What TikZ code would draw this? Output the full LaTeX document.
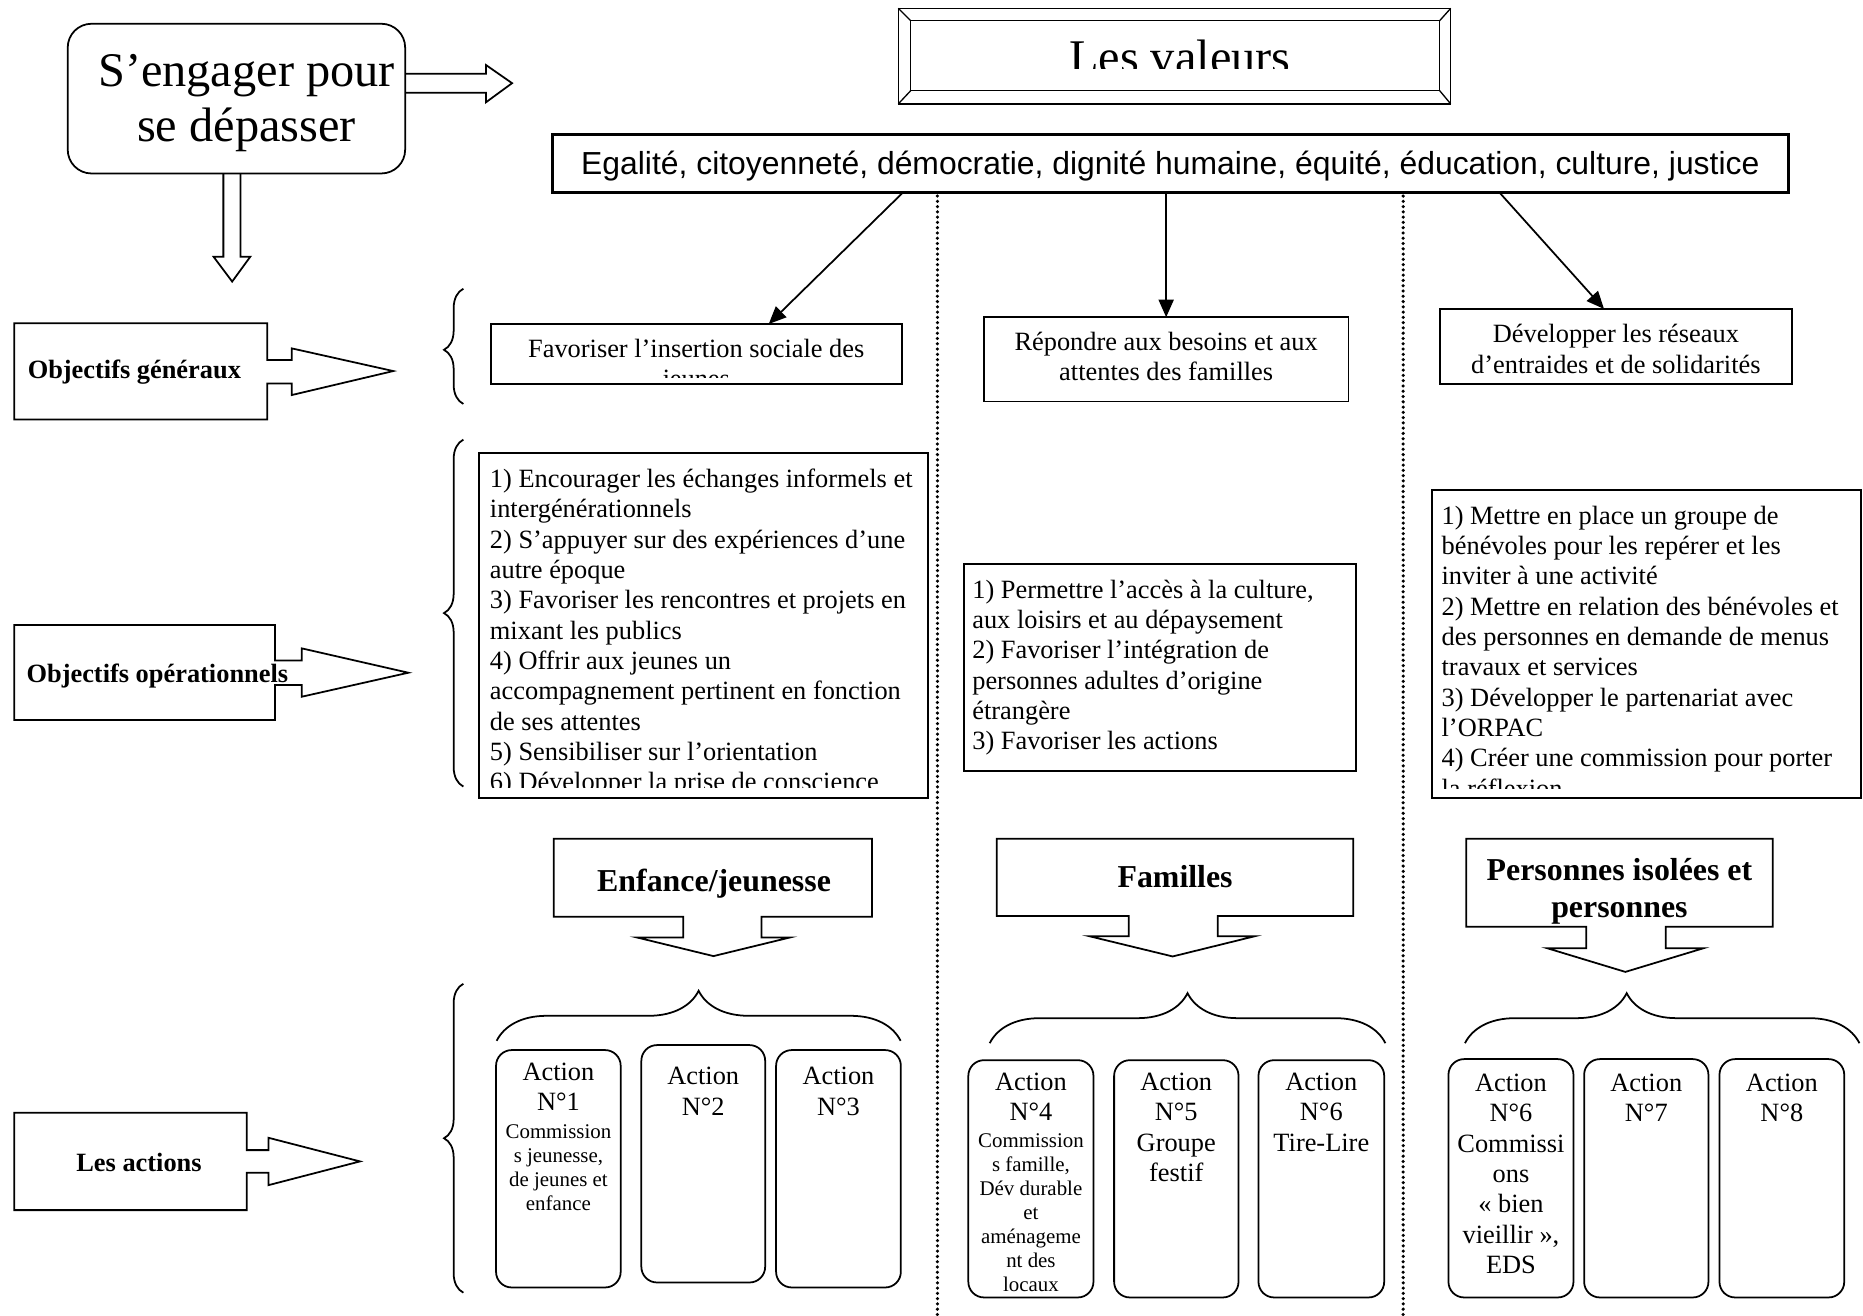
\documentclass[tikz,border=0pt]{standalone}
\usepackage{fontspec}
\setmainfont{Liberation Serif}
\newfontfamily\arialfamily{Liberation Sans}
\usepackage{tikz}
\usetikzlibrary{arrows.meta, calc, fit, decorations.pathreplacing}

\tikzset{
	boite/.style={draw, line width=0.8pt, inner sep=0pt, outer sep=0pt},
	actbox/.style={boite, rounded corners=0.25cm},
	trait/.style={line width=0.8pt, line join=miter},
	pil/.style={-{Triangle[length=2.8mm, width=2.4mm]}, line width=0.8pt},
	pointille/.style={line width=1.6pt, line cap=round, dash pattern=on 0pt off 2.4pt},
	accol/.style={decorate, decoration={brace, amplitude=#1}, line width=0.8pt},
	corps/.style={font=\fontsize{12}{13.8}\selectfont, inner sep=0pt},
	petit/.style={font=\fontsize{9.5}{10.9}\selectfont, inner sep=0pt},
	titre/.style={font=\fontsize{14.5}{16.7}\selectfont\bfseries, inner sep=0pt},
	etiq/.style={font=\fontsize{12}{13.8}\selectfont\bfseries, inner sep=0pt},
}

\begin{document}
\begin{tikzpicture}[x=0.019cm, y=-0.019cm]
	\useasboundingbox (0,0) rectangle (1568,1107);

	% en haut
	\node[boite, rounded corners=0.38cm, fit={(57,20) (341,146)}] (engager) {};
	\node[anchor=north, align=center, inner sep=0pt, font=\fontsize{22}{25}\selectfont] (engager-txt) at (207.5,45.5) {S’engager pour\\se dépasser};
	\draw[trait] (341,62) -- (409,62) -- (409,54.7) -- (431,70) -- (409,86.1) -- (409,78) -- (341,78);
	\draw[trait] (188,146) -- (188,216) -- (179.7,216) -- (195.4,237) -- (210.7,216) -- (202.4,216) -- (202.4,146);

	\node[boite, line width=0.6pt, fit={(756,7) (1221,87.5)}] (valeurs) {};
	\draw[line width=0.6pt] (766.5,17.4) rectangle (1211.7,76.3);
	\draw[line width=0.6pt] (valeurs.north west) -- (766.5,17.4) (valeurs.north east) -- (1211.7,17.4)
		(valeurs.south west) -- (766.5,76.3) (valeurs.south east) -- (1211.7,76.3);
	\begin{scope}
		\clip (766.5,17.4) rectangle (1211.7,57.5);
		\node[anchor=base, inner sep=0pt, font=\fontsize{22}{25}\selectfont] (valeurs-txt) at (993,62) {Les valeurs};
	\end{scope}

	\node[boite, line width=1.4pt, fit={(465,113) (1505,162)}] (liste) {};
	\node[anchor=base, inner sep=0pt, font=\arialfamily\fontsize{14.5}{16.7}\selectfont] (liste-txt) at (985,147) {Egalité, citoyenneté, démocratie, dignité humaine, équité, éducation, culture, justice};

	\draw[pointille] ($(liste.south)+(-196,3)$) -- ++(0,942);
	\draw[pointille] ($(liste.south)+(196,3)$) -- ++(0,942);

	% objectifs generaux
	\node[boite, fit={(413,272.7) (759,323)}] (og1) {};
	\begin{scope}
		\clip (413,272.7) rectangle (759,317.6);
		\node[corps, anchor=north, align=center] (og1-txt) at (586,285) {Favoriser l’insertion sociale des\\jeunes};
	\end{scope}
	\node[boite, fit={(828,267) (1135,338)}] (og2) {};
	\node[corps, anchor=north, align=center] (og2-txt) at (981.5,278.8) {Répondre aux besoins et aux\\attentes des familles};
	\node[boite, fit={(1212,260) (1508,323)}] (og3) {};
	\node[corps, anchor=north, align=center] (og3-txt) at (1360,272.8) {Développer les réseaux\\d’entraides et de solidarités};

	\draw[pil] ($(liste.south)+(-225,0)$) -- ($(og1.north)+(61,0)$);
	\draw[pil] (liste.south -| og2.north) -- (og2.north);
	\draw[pil] ($(liste.south)+(277,0)$) -- ($(og3.north)+(-10,0)$);

	% objectifs operationnels
	\node[boite, line width=0.9pt, fit={(403,381) (781,672)}] (op1) {};
	\begin{scope}
		\clip (403,381) rectangle (781,663);
		\node[corps, anchor=north west, align=left] (op1-txt) at (412,394.4) {1) Encourager les échanges informels et\\intergénérationnels\\2) S’appuyer sur des expériences d’une\\autre époque\\3) Favoriser les rencontres et projets en\\mixant les publics\\4) Offrir aux jeunes un\\accompagnement pertinent en fonction\\de ses attentes\\5) Sensibiliser sur l’orientation\\6) Développer la prise de conscience};
	\end{scope}

	\node[boite, line width=0.9pt, fit={(811,475) (1141,649)}] (op2) {};
	\node[corps, anchor=north west, align=left] (op2-txt) at (818,487.5) {1) Permettre l’accès à la culture,\\aux loisirs et au dépaysement\\2) Favoriser l’intégration de\\personnes adultes d’origine\\étrangère\\3) Favoriser les actions};

	\node[boite, line width=0.9pt, fit={(1205,412) (1566,672)}] (op3) {};
	\begin{scope}
		\clip (1205,412) rectangle (1566,663.6);
		\node[corps, anchor=north west, align=left] (op3-txt) at (1213,425.3) {1) Mettre en place un groupe de\\bénévoles pour les repérer et les\\inviter à une activité\\2) Mettre en relation des bénévoles et\\des personnes en demande de menus\\travaux et services\\3) Développer le partenariat avec\\l’ORPAC\\4) Créer une commission pour porter\\la réflexion};
	\end{scope}

	% accolades
	\draw[accol=0.31cm, decoration={aspect=0.47}] (390,340) -- (390,243);
	\draw[accol=0.31cm] (390,662) -- (390,370);
	\draw[accol=0.31cm] (390,1088) -- (390,828);

	% etiquettes a gauche
	\draw[trait] (12,272) -- (225,272) -- (225,303) -- (245.5,303) -- (245.5,293.2) -- (331,312.3) -- (245.5,332.5) -- (245.5,322.7) -- (225,322.7) -- (225,353) -- (12,353) -- cycle;
	\node[etiq, anchor=base west] (lab-og) at (23,318.5) {Objectifs généraux};
	\draw[trait] (12,526) -- (231.5,526) -- (231.5,556) -- (254,556) -- (254,545.7) -- (343.7,566.2) -- (254,586.4) -- (254,576.6) -- (231.5,576.6) -- (231.5,606) -- (12,606) -- cycle;
	\node[etiq, anchor=base west] (lab-op) at (22,574.6) {Objectifs opérationnels};
	\draw[trait] (12,936.6) -- (207.6,936.6) -- (207.6,968) -- (225.9,968) -- (225.9,957.6) -- (303,977.5) -- (225.9,997.5) -- (225.9,987.1) -- (207.6,987.1) -- (207.6,1018.5) -- (12,1018.5) -- cycle;
	\node[etiq, anchor=base] (lab-act) at (117,986.2) {Les actions};

	% publics
	\draw[trait] (466,706) -- (734,706) -- (734,771.6) -- (641,771.6) -- (641,789) -- (665,789) -- (600.5,804.7) -- (536,789) -- (575,789) -- (575,771.6) -- (466,771.6) -- cycle;
	\node[titre, anchor=base] (cat1) at (601,750) {Enfance/jeunesse};
	\draw[trait] (839,706) -- (1139,706) -- (1139,771) -- (1025,771) -- (1025,788) -- (1056,788) -- (987,805) -- (917,788) -- (950,788) -- (950,771) -- (839,771) -- cycle;
	\node[titre, anchor=base] (cat2) at (989,747) {Familles};
	\draw[trait] (1234,706) -- (1492,706) -- (1492,780) -- (1402,780) -- (1402,798) -- (1434,798) -- (1368,818) -- (1302,798) -- (1335,798) -- (1335,780) -- (1234,780) -- cycle;
	\node[titre, anchor=north, align=center] (cat3) at (1363,722) {Personnes isolées et\\personnes};

	\draw[accol=0.8cm] (418,876) -- (758,876);
	\draw[accol=0.8cm] (833,878) -- (1166,878);
	\draw[accol=0.8cm, decoration={aspect=0.41}] (1233,878) -- (1565,878);

	% actions
	\node[actbox, fit={(417.5,883.8) (522.4,1083.6)}] (a1) {};
	\node[actbox, fit={(539.8,879.6) (644,1079.4)}] (a2) {};
	\node[actbox, fit={(653.2,883.8) (758.2,1083.6)}] (a3) {};
	\node[actbox, fit={(815,892.3) (920.3,1092)}] (a4) {};
	\node[actbox, fit={(937.7,892.3) (1042.4,1092)}] (a5) {};
	\node[actbox, fit={(1059.2,892.3) (1165,1092)}] (a6) {};
	\node[actbox, fit={(1219.1,891.4) (1324.3,1092)}] (a6b) {};
	\node[actbox, fit={(1333.3,891.4) (1437.9,1092)}] (a7) {};
	\node[actbox, fit={(1447.2,891.4) (1552.2,1092)}] (a8) {};

	\node[corps, anchor=north, align=center] (a1-txt) at (470,894.4) {Action\\N°1};
	\node[petit, anchor=north, align=center] (a1-det) at (470,946.2) {Commission\\s jeunesse,\\de jeunes et\\enfance};
	\node[corps, anchor=north, align=center] (a2-txt) at (591.9,898.1) {Action\\N°2};
	\node[corps, anchor=north, align=center] (a3-txt) at (705.7,898.1) {Action\\N°3};
	\node[corps, anchor=north, align=center] (a4-txt) at (867.7,902.8) {Action\\N°4};
	\node[petit, anchor=north, align=center] (a4-det) at (867.7,953.8) {Commission\\s famille,\\Dév durable\\et\\aménageme\\nt des\\locaux};
	\node[corps, anchor=north, align=center] (a5-txt) at (990,902.8) {Action\\N°5\\Groupe\\festif};
	\node[corps, anchor=north, align=center] (a6-txt) at (1112.1,902.8) {Action\\N°6\\Tire-Lire};
	\node[corps, anchor=north, align=center] (a6b-txt) at (1271.7,903.7) {Action\\N°6\\Commissi\\ons\\« bien\\vieillir »,\\EDS};
	\node[corps, anchor=north, align=center] (a7-txt) at (1385.6,903.7) {Action\\N°7};
	\node[corps, anchor=north, align=center] (a8-txt) at (1499.7,903.7) {Action\\N°8};
\end{tikzpicture}
\end{document}
